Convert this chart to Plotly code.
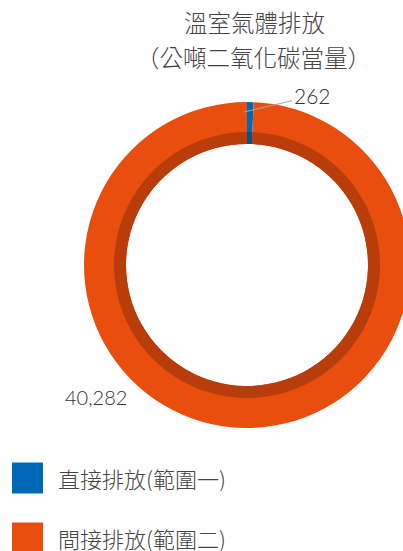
import math
import plotly.graph_objects as go

# ---- data ----
categories = ["直接排放(範圍一)", "間接排放(範圍二)"]
values = [262, 40282]
colors = ["#0068B7", "#EA4E0E"]
shade_colors = ["#0B5089", "#B83D0B"]
title_lines = ["溫室氣體排放", "（公噸二氧化碳當量）"]

# ---- geometry (pixels) ----
W, H = 411, 551
cx, cy = 247, 265
R_out, R_shade, R_hole = 163, 133, 121

CJK = "Noto Sans CJK TC"
TXT = "#454545"


def dom(r):
    return dict(x=[(cx - r) / W, (cx + r) / W], y=[(H - cy - r) / H, (H - cy + r) / H])


def px(x):
    return x / W


def py(y):
    return 1 - y / H


fig = go.Figure()
fig.add_trace(go.Pie(
    labels=categories, values=values, sort=False, direction="counterclockwise", rotation=0,
    marker=dict(colors=colors, line=dict(width=0)), hole=R_hole / R_out, domain=dom(R_out),
    textinfo="none", hoverinfo="label+value", showlegend=False))
fig.add_trace(go.Pie(
    labels=categories, values=values, sort=False, direction="counterclockwise", rotation=0,
    marker=dict(colors=shade_colors, line=dict(width=0)), hole=R_hole / R_shade, domain=dom(R_shade),
    textinfo="none", hoverinfo="skip", showlegend=False))

annotations = []
# title
annotations.append(dict(text=title_lines[0], x=px(254), y=py(22), xref="paper", yref="paper",
                        xanchor="center", yanchor="middle", showarrow=False,
                        font=dict(family=CJK, size=23.5, color=TXT, weight=300)))
annotations.append(dict(text=title_lines[1], x=px(253), y=py(57), xref="paper", yref="paper",
                        xanchor="center", yanchor="middle", showarrow=False,
                        font=dict(family=CJK, size=23.5, color=TXT, weight=300)))

# value labels
total = sum(values)
a = math.radians(values[0] / total * 360 / 2)
r_tip = R_out - 10
tx, ty = cx - r_tip * math.sin(a), cy - r_tip * math.cos(a)
annotations.append(dict(text=f"{values[0]:,}", x=px(tx), y=py(ty), xref="paper", yref="paper",
                        showarrow=True, arrowhead=0, arrowwidth=1, arrowcolor="#AAAAAA",
                        ax=312 - tx, ay=96 - ty, standoff=0,
                        font=dict(family="Lato", size=21, color="#333333", weight=300)))
annotations.append(dict(text=f"{values[1]:,}", x=px(96), y=py(397), xref="paper", yref="paper",
                        xanchor="center", yanchor="middle", showarrow=False,
                        font=dict(family="Lato", size=20, color="#333333", weight=300)))

# legend
shapes = []
legend_y = [477, 537]
for i, name in enumerate(categories):
    yc = legend_y[i]
    shapes.append(dict(type="rect", xref="paper", yref="paper", x0=px(12), x1=px(43),
                       y0=py(yc + 16.5), y1=py(yc - 14.5), fillcolor=colors[i], line=dict(width=0)))
    annotations.append(dict(text=name, x=px(57), y=py(yc), xref="paper", yref="paper",
                            xanchor="left", yanchor="middle", showarrow=False, borderpad=0,
                            height=27, valign="middle",
                            font=dict(family=CJK, size=22, color=TXT, weight=300)))

fig.update_layout(
    width=W, height=H, autosize=False,
    margin=dict(l=0, r=0, t=0, b=0),
    paper_bgcolor="white", plot_bgcolor="white",
    annotations=annotations, shapes=shapes, showlegend=False,
)

fig.write_html("out.html", config={"displayModeBar": False},
               post_script="document.body.style.margin='0';document.body.style.overflow='hidden';"
                           "document.documentElement.style.overflow='hidden';")
